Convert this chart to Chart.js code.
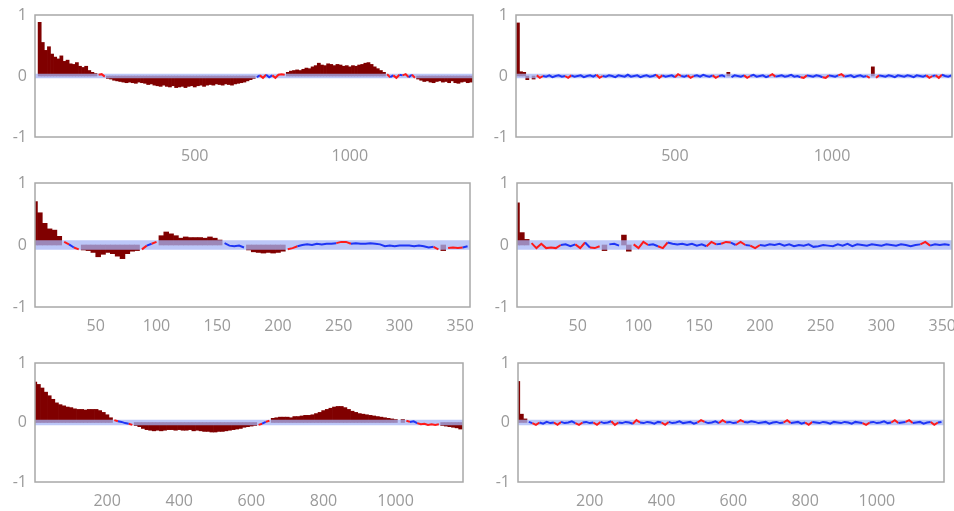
<!DOCTYPE html>
<html>
<head>
<meta charset="utf-8">
<script src="https://cdn.jsdelivr.net/npm/chart.js@4.4.1/dist/chart.umd.min.js"></script>
<style>
  html, body { margin: 0; padding: 0; background: #fff; width: 954px; height: 511px; overflow: hidden; }
  .panel { position: absolute; }
</style>
</head>
<body>
<div class="panel" style="left:0px;top:3px;width:488px;height:164px"><canvas id="topLeft"></canvas></div>
<div class="panel" style="left:481px;top:3px;width:486px;height:164px"><canvas id="topRight"></canvas></div>
<div class="panel" style="left:0px;top:171px;width:485px;height:166px"><canvas id="midLeft"></canvas></div>
<div class="panel" style="left:482px;top:171px;width:485px;height:166px"><canvas id="midRight"></canvas></div>
<div class="panel" style="left:0px;top:351px;width:478px;height:161px"><canvas id="botLeft"></canvas></div>
<div class="panel" style="left:483px;top:351px;width:476px;height:161px"><canvas id="botRight"></canvas></div>
<script>
// lag spacing between the values
const lagStepTop = 10;
const lagStepMid = 4;
const lagStepBot = 10;

// tick labels
const yTicks = [-1, 0, 1];
const xTicksTop = [500, 1000];
const xTicksMid = [50, 100, 150, 200, 250, 300, 350];
const xTicksBot = [200, 400, 600, 800, 1000];

// confidence band half-width per row
const bandTop = 0.035;
const bandMid = 0.075;
const bandBot = 0.045;

// autocorrelation values (lag 0, step, 2*step, ...)
const acfTopLeft = [
  0.88, 0.55, 0.42, 0.48, 0.36, 0.31, 0.28, 0.33, 0.24, 0.26,
  0.20, 0.19, 0.22, 0.16, 0.14, 0.16, 0.09, 0.06, 0.04, 0.02,
  0.03, -0.01, -0.04, -0.05, -0.07, -0.08, -0.09, -0.10, -0.11, -0.10,
  -0.11, -0.12, -0.10, -0.11, -0.12, -0.14, -0.13, -0.15, -0.16, -0.17,
  -0.15, -0.17, -0.18, -0.16, -0.19, -0.18, -0.17, -0.19, -0.17, -0.16,
  -0.18, -0.16, -0.15, -0.17, -0.15, -0.14, -0.15, -0.13, -0.14, -0.15,
  -0.13, -0.14, -0.15, -0.13, -0.12, -0.11, -0.10, -0.08, -0.06, -0.04,
  -0.02, 0.01, -0.03, 0.02, -0.02, 0.01, -0.03, 0.02, 0.03, 0.02,
  0.06, 0.08, 0.09, 0.10, 0.09, 0.11, 0.13, 0.12, 0.15, 0.17,
  0.21, 0.18, 0.17, 0.20, 0.19, 0.17, 0.19, 0.18, 0.16, 0.17,
  0.15, 0.17, 0.16, 0.18, 0.19, 0.21, 0.22, 0.19, 0.15, 0.12,
  0.09, 0.06, 0.03, -0.02, 0.01, -0.03, 0.02, 0.01, 0.03, -0.02,
  0.02, -0.03, -0.05, -0.07, -0.09, -0.08, -0.10, -0.11, -0.09, -0.08,
  -0.10, -0.09, -0.11, -0.08, -0.11, -0.12, -0.10, -0.09, -0.11, -0.10
];
const acfTopRight = [
  0.87, 0.07, 0.06, -0.06, 0.03, -0.05, 0.01, -0.03, 0.00, -0.01,
  0.01, -0.02, 0.00, 0.01, -0.01, 0.00, -0.03, 0.01, -0.01, 0.00,
  0.01, -0.02, 0.00, 0.01, -0.01, 0.02, -0.03, 0.00, -0.01, 0.01,
  0.00, -0.02, 0.01, 0.00, -0.01, 0.02, -0.01, 0.00, 0.01, -0.02,
  0.00, 0.01, -0.01, 0.00, 0.02, -0.03, 0.01, -0.01, 0.00, 0.01,
  -0.02, 0.03, 0.00, -0.01, 0.01, -0.03, 0.00, 0.01, -0.01, 0.02,
  0.00, -0.01, 0.01, -0.03, 0.00, 0.01, -0.01, 0.06, -0.02, 0.01,
  0.00, -0.01, 0.01, -0.03, 0.00, 0.02, -0.01, 0.00, 0.01, -0.02,
  0.00, 0.03, -0.01, 0.00, 0.01, -0.01, 0.00, 0.02, -0.01, 0.00,
  -0.02, -0.03, 0.01, 0.00, -0.01, 0.01, 0.00, -0.02, -0.03, 0.01,
  0.00, -0.01, 0.01, 0.03, -0.01, 0.00, 0.01, -0.02, 0.00, 0.01,
  -0.01, 0.00, -0.03, 0.15, -0.03, 0.01, 0.00, -0.01, 0.01, 0.00,
  -0.02, 0.01, 0.00, -0.01, 0.01, 0.00, -0.02, 0.01, 0.00, -0.01,
  0.01, -0.03, 0.00, 0.01, -0.03, 0.02, 0.00, -0.01, 0.01
];
const acfMidLeft = [
  0.70, 0.52, 0.35, 0.26, 0.24, 0.14, 0.05, 0.01, -0.04, -0.07,
  -0.08, -0.09, -0.12, -0.19, -0.15, -0.12, -0.14, -0.18, -0.22, -0.14,
  -0.10, -0.09, -0.07, -0.01, 0.02, 0.05, 0.15, 0.21, 0.18, 0.15,
  0.11, 0.13, 0.12, 0.12, 0.12, 0.11, 0.13, 0.11, 0.08, 0.03,
  -0.01, -0.02, -0.01, -0.04, -0.08, -0.11, -0.12, -0.13, -0.12, -0.13,
  -0.12, -0.10, -0.07, -0.05, -0.02, 0.00, 0.01, 0.00, 0.02, 0.01,
  0.02, 0.02, 0.03, 0.05, 0.05, 0.02, 0.03, 0.02, 0.02, 0.03,
  0.02, 0.01, -0.02, -0.01, -0.02, -0.01, -0.01, -0.01, -0.02, -0.01,
  -0.02, -0.04, -0.03, -0.07, -0.09, -0.05, -0.04, -0.05, -0.04, -0.02
];
const acfMidRight = [
  0.68, 0.20, 0.09, 0.03, -0.05, 0.02, -0.05, -0.04, -0.05, 0.00,
  0.01, -0.02, 0.01, -0.05, 0.04, -0.04, -0.05, -0.02, -0.09, 0.01,
  0.02, -0.01, 0.16, -0.10, 0.01, -0.05, 0.05, 0.00, 0.01, -0.02,
  -0.05, 0.04, 0.02, 0.01, 0.02, 0.00, 0.02, -0.01, 0.01, -0.02,
  0.05, 0.01, 0.02, 0.05, 0.04, 0.00, 0.05, 0.00, -0.01, -0.05,
  0.00, -0.01, 0.01, 0.00, 0.02, -0.01, 0.01, -0.02, 0.00, -0.01,
  0.01, -0.03, -0.02, 0.00, -0.01, -0.02, 0.01, -0.01, 0.02, -0.02,
  0.01, 0.00, -0.01, 0.01, 0.00, -0.01, 0.01, 0.00, -0.01, 0.01,
  0.00, -0.02, 0.00, 0.01, 0.05, -0.01, 0.01, 0.00, 0.01, 0.00
];
const acfBotLeft = [
  0.68, 0.64, 0.58, 0.51, 0.45, 0.39, 0.33, 0.30, 0.28, 0.26,
  0.25, 0.23, 0.22, 0.22, 0.21, 0.22, 0.22, 0.22, 0.20, 0.17,
  0.13, 0.08, 0.04, 0.02, 0.01, -0.01, -0.02, -0.04, -0.05, -0.07,
  -0.10, -0.12, -0.13, -0.14, -0.13, -0.14, -0.13, -0.12, -0.12, -0.13,
  -0.12, -0.13, -0.13, -0.12, -0.14, -0.13, -0.14, -0.15, -0.15, -0.16,
  -0.16, -0.15, -0.15, -0.14, -0.13, -0.12, -0.11, -0.10, -0.08, -0.07,
  -0.06, -0.05, -0.04, -0.02, 0.01, 0.03, 0.07, 0.08, 0.09, 0.09,
  0.09, 0.08, 0.10, 0.10, 0.11, 0.12, 0.12, 0.13, 0.15, 0.17,
  0.20, 0.22, 0.24, 0.26, 0.27, 0.27, 0.25, 0.22, 0.19, 0.17,
  0.15, 0.14, 0.13, 0.12, 0.11, 0.10, 0.09, 0.08, 0.07, 0.06,
  0.05, 0.04, 0.05, 0.03, 0.01, 0.02, -0.01, -0.03, -0.02, -0.04,
  -0.03, -0.04, -0.03, -0.05, -0.06, -0.07, -0.08, -0.09, -0.11
];
const acfBotRight = [
  0.69, 0.14, 0.06, 0.01, -0.01, -0.04, 0.00, -0.02, 0.01, -0.01,
  0.00, -0.04, 0.01, -0.01, 0.00, 0.02, -0.01, -0.04, 0.00, 0.01,
  -0.01, 0.00, -0.04, 0.01, -0.01, 0.00, 0.02, -0.04, 0.00, -0.01,
  0.01, 0.00, -0.02, 0.04, 0.00, -0.01, 0.01, 0.00, -0.02, 0.01,
  0.00, -0.04, 0.01, -0.01, 0.00, 0.02, -0.01, 0.00, 0.01, -0.02,
  0.00, 0.04, 0.01, -0.01, 0.00, 0.02, -0.01, 0.04, 0.00, 0.01,
  -0.01, 0.00, 0.04, 0.01, 0.00, 0.02, 0.01, -0.01, 0.00, 0.01,
  -0.02, 0.00, 0.01, -0.01, 0.00, 0.04, -0.01, 0.00, 0.01, -0.02,
  0.00, -0.04, 0.01, 0.00, -0.01, 0.01, 0.00, -0.02, 0.01, 0.00,
  -0.01, 0.01, 0.00, -0.02, 0.01, 0.00, -0.01, -0.04, 0.00, 0.01,
  -0.01, 0.00, 0.02, -0.01, 0.00, 0.04, -0.01, 0.00, 0.01, 0.04,
  -0.01, 0.00, 0.01, -0.02, 0.00, 0.01, -0.04, 0.00, 0.01
];

const DARK = '#800000';
const RED = '#ff1a1a';
const BLUE = '#1f35f5';
const BAND = 'rgba(165, 180, 245, 0.75)';
const TEXT = '#9a9a9a';

Chart.defaults.font.family = "'Open Sans', sans-serif";
Chart.defaults.font.size = 16;
Chart.defaults.color = TEXT;

// grey frame around each plot area
const frame = {
  id: 'frame',
  afterDraw(chart) {
    const { ctx, chartArea: a } = chart;
    ctx.save();
    ctx.strokeStyle = '#a8a8a8';
    ctx.lineWidth = 1.5;
    ctx.strokeRect(a.left, a.top, a.right - a.left, a.bottom - a.top);
    ctx.restore();
  }
};

function makePanel(id, values, step, xMin, xMax, xTicks, band) {
  const pts = values.map((v, i) => ({ x: i * step, y: v }));
  const outside = pts.map(p => ({ x: p.x, y: Math.abs(p.y) > band ? p.y : null }));
  const inside = pts.map(p => ({ x: p.x, y: Math.abs(p.y) > band ? null : p.y }));
  const redLevel = band * 0.6;

  new Chart(document.getElementById(id), {
    type: 'bar',
    data: {
      datasets: [
        {
          type: 'line',
          data: inside,
          borderWidth: 2,
          pointRadius: 0,
          segment: {
            borderColor: c => Math.max(Math.abs(c.p0.parsed.y), Math.abs(c.p1.parsed.y)) > redLevel ? RED : BLUE
          },
          borderColor: BLUE,
          order: 1
        },
        {
          type: 'line',
          data: [{ x: xMin, y: band }, { x: xMax, y: band }],
          borderWidth: 0,
          pointRadius: 0,
          backgroundColor: BAND,
          fill: { value: -band },
          order: 2
        },
        {
          type: 'bar',
          data: outside,
          backgroundColor: DARK,
          barPercentage: 1,
          categoryPercentage: 1,
          borderWidth: 0,
          order: 3
        }
      ]
    },
    options: {
      responsive: true,
      maintainAspectRatio: false,
      animation: false,
      layout: { padding: { top: 12, right: 15, left: 0, bottom: 0 } },
      plugins: { legend: { display: false }, tooltip: { enabled: false } },
      scales: {
        x: {
          type: 'linear',
          min: xMin,
          max: xMax,
          offset: false,
          grid: { display: false },
          border: { display: false },
          ticks: { padding: 2, callback: v => String(v) },
          afterBuildTicks: s => { s.ticks = xTicks.map(v => ({ value: v })); },
          afterFit: s => { s.height = 30; }
        },
        y: {
          min: -1,
          max: 1,
          grid: { display: false },
          border: { display: false },
          ticks: { padding: 0, callback: v => String(v) },
          afterBuildTicks: s => { s.ticks = yTicks.map(v => ({ value: v })); },
          afterFit: s => { s.width = 35; }
        }
      }
    },
    plugins: [frame]
  });
}

makePanel('topLeft', acfTopLeft, lagStepTop, -15, 1397, xTicksTop, bandTop);
makePanel('topRight', acfTopRight, lagStepTop, -6, 1382, xTicksTop, bandTop);
makePanel('midLeft', acfMidLeft, lagStepMid, 0, 358, xTicksMid, bandMid);
makePanel('midRight', acfMidRight, lagStepMid, 0, 358, xTicksMid, bandMid);
makePanel('botLeft', acfBotLeft, lagStepBot, 0, 1187, xTicksBot, bandBot);
makePanel('botRight', acfBotRight, lagStepBot, 0, 1187, xTicksBot, bandBot);
</script>
</body>
</html>
